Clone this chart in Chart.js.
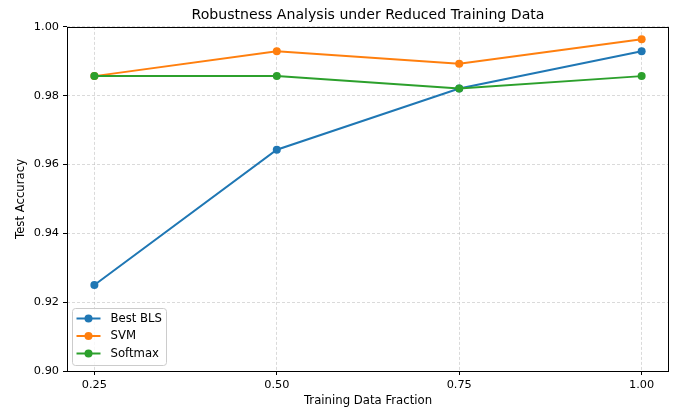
<!DOCTYPE html>
<html>
<head>
<meta charset="utf-8">
<script src="https://cdn.jsdelivr.net/npm/chart.js@4"></script>
<style>
  html, body { margin: 0; padding: 0; background: #fff; }
  #wrap { width: 677px; height: 410px; }
</style>
</head>
<body>
<div id="wrap"><canvas id="chart" width="677" height="410"></canvas></div>
<script>
// data
const fractions = [0.25, 0.50, 0.75, 1.00];
const blsAcc = [0.9250, 0.9643, 0.9821, 0.9929];
const svmAcc = [0.9857, 0.9929, 0.9893, 0.9964];
const softmaxAcc = [0.9857, 0.9857, 0.9821, 0.9857];
const seriesNames = ['Best BLS', 'SVM', 'Softmax'];
const seriesColors = ['#1f77b4', '#ff7f0e', '#2ca02c'];
const xTicks = [0.25, 0.50, 0.75, 1.00];
const yTicks = [0.90, 0.92, 0.94, 0.96, 0.98, 1.00];

const FONT = 'DejaVu Sans';
const LABEL_SIZE = 11.7;
const TICK_SIZE = 11.3;

function toPoints(ys) {
  return fractions.map((x, i) => ({ x: x, y: ys[i] }));
}

function makeDataset(i, ys) {
  return {
    label: seriesNames[i],
    data: toPoints(ys),
    borderColor: seriesColors[i],
    backgroundColor: seriesColors[i],
    borderWidth: 2,
    pointRadius: 4,
    pointHoverRadius: 4,
    pointBorderWidth: 0,
    tension: 0,
    order: 3 - i
  };
}

// frame + legend drawn the matplotlib way
const mplExtras = {
  id: 'mplExtras',
  afterDatasetsDraw(chart) {
    const ctx = chart.ctx;
    const a = chart.chartArea;
    ctx.save();

    // spines
    ctx.strokeStyle = '#000';
    ctx.lineWidth = 1;
    ctx.strokeRect(Math.round(a.left) + 0.5, Math.round(a.top) + 0.5,
      Math.round(a.right - a.left) - 1, Math.round(a.bottom - a.top));

    // legend, lower left inside the axes
    const rowH = 17.5;
    const bx = a.left + 5.5, by = a.bottom - 62.5, bw = 94, bh = 57;
    ctx.fillStyle = 'rgba(255,255,255,0.8)';
    ctx.strokeStyle = '#cccccc';
    ctx.lineWidth = 1;
    ctx.beginPath();
    ctx.roundRect(bx, by, bw, bh, 3);
    ctx.fill();
    ctx.stroke();

    ctx.font = LABEL_SIZE + 'px "' + FONT + '"';
    ctx.textBaseline = 'middle';
    chart.data.datasets.forEach((ds, i) => {
      const cy = by + 10 + i * rowH;
      ctx.strokeStyle = ds.borderColor;
      ctx.lineWidth = 2;
      ctx.beginPath();
      ctx.moveTo(bx + 4, cy);
      ctx.lineTo(bx + 28, cy);
      ctx.stroke();
      ctx.fillStyle = ds.borderColor;
      ctx.beginPath();
      ctx.arc(bx + 16, cy, 4, 0, Math.PI * 2);
      ctx.fill();
      ctx.fillStyle = '#000';
      ctx.fillText(ds.label, bx + 38, cy);
    });
    ctx.restore();
  }
};

const gridOpts = {
  color: 'rgba(176,176,176,0.6)',
  lineWidth: 0.8,
  tickColor: '#000',
  tickLength: 4,
  tickWidth: 1,
  tickBorderDash: []
};
const borderOpts = { display: false, dash: [3, 2] };

new Chart(document.getElementById('chart'), {
  type: 'line',
  data: {
    datasets: [
      makeDataset(0, blsAcc),
      makeDataset(1, svmAcc),
      makeDataset(2, softmaxAcc)
    ]
  },
  options: {
    responsive: false,
    animation: false,
    devicePixelRatio: 1,
    layout: { padding: { left: 0, right: 8, top: 0, bottom: 0 } },
    plugins: {
      legend: { display: false },
      tooltip: { enabled: false },
      title: {
        display: true,
        text: 'Robustness Analysis under Reduced Training Data',
        color: '#000',
        fullSize: false,
        font: { family: FONT, size: 14.1, weight: 'normal', lineHeight: 1.2 },
        padding: { top: 6.5, bottom: 3.5 }
      }
    },
    scales: {
      x: {
        type: 'linear',
        min: 0.2125,
        max: 1.0375,
        afterBuildTicks: (s) => { s.ticks = xTicks.map(v => ({ value: v })); },
        afterFit: (s) => { s.height = 39; },
        grid: gridOpts,
        border: borderOpts,
        ticks: {
          color: '#000',
          padding: 3,
          maxRotation: 0,
          font: { family: FONT, size: TICK_SIZE },
          callback: (v) => Number(v).toFixed(2)
        },
        title: {
          display: true,
          text: 'Training Data Fraction',
          color: '#000',
          font: { family: FONT, size: LABEL_SIZE },
          padding: { top: 0, bottom: 2 }
        }
      },
      y: {
        min: 0.90,
        max: 1.00,
        afterBuildTicks: (s) => { s.ticks = yTicks.map(v => ({ value: v })); },
        afterFit: (s) => { s.width = 67; },
        grid: gridOpts,
        border: borderOpts,
        ticks: {
          color: '#000',
          padding: 4,
          font: { family: FONT, size: TICK_SIZE },
          callback: (v) => Number(v).toFixed(2)
        },
        title: {
          display: true,
          text: 'Test Accuracy',
          color: '#000',
          font: { family: FONT, size: LABEL_SIZE },
          padding: { top: 14, bottom: 0 }
        }
      }
    }
  },
  plugins: [mplExtras]
});
</script>
</body>
</html>
